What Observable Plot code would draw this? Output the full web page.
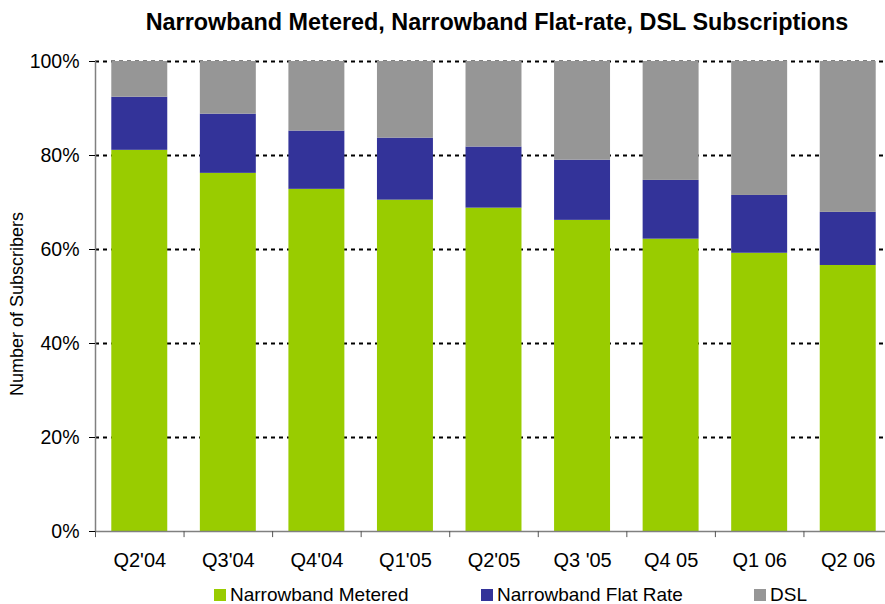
<!DOCTYPE html>
<html>
<head>
<meta charset="utf-8">
<script src="https://cdn.jsdelivr.net/npm/d3@7"></script>
<script src="https://cdn.jsdelivr.net/npm/@observablehq/plot@0.6"></script>
<style>
  html, body { margin: 0; padding: 0; background: #fff; }
  #wrap { position: relative; width: 885px; height: 604px; font-family: "Liberation Sans", Arial, sans-serif; color: #000; overflow: hidden; }
  #title { height: 44px; font-size: 23.4px; font-weight: bold; position: relative; }
  #title span { position: absolute; left: 497px; top: 23px; line-height: 1; transform: translate(-50%, -50%); white-space: nowrap; }
  #ylabel { position: absolute; left: 17px; top: 304px; transform: translate(-50%, -50%) rotate(-90deg); font-size: 18px; white-space: nowrap; }
  #legend { position: relative; height: 30px; font-size: 19px; }
  .item { position: absolute; top: 6px; height: 30px; line-height: 30px; white-space: nowrap; }
  .sw { display: inline-block; width: 12px; height: 12px; margin-right: 4px; vertical-align: 0; }
  svg { display: block; }
</style>
</head>
<body>
<div id="wrap">
  <div id="title"><span>Narrowband Metered, Narrowband Flat-rate, DSL Subscriptions</span></div>
  <div id="chart"></div>
  <div id="legend"></div>
  <div id="ylabel">Number of Subscribers</div>
</div>
<script>
const categories = ["Q2'04", "Q3'04", "Q4'04", "Q1'05", "Q2'05", "Q3 '05", "Q4 05", "Q1 06", "Q2 06"];
const seriesNames = ["Narrowband Metered", "Narrowband Flat Rate", "DSL"];
const seriesColors = ["#99CC00", "#333399", "#969696"];
const metered = [81.1, 76.2, 72.8, 70.5, 68.8, 66.2, 62.2, 59.2, 56.6];
const flatRate = [11.3, 12.6, 12.4, 13.2, 13.0, 12.8, 12.5, 12.3, 11.3];
const dsl = [7.6, 11.2, 14.8, 16.3, 18.2, 21.0, 25.3, 28.5, 32.1];
const yTicks = [0, 20, 40, 60, 80, 100];
const gridTicks = [20, 40, 60, 80, 100];

const valuesBySeries = [metered, flatRate, dsl];
const rows = [];
categories.forEach((c, i) => {
  seriesNames.forEach((s, j) => rows.push({cat: c, series: s, value: valuesBySeries[j][i]}));
});

const x0 = 95, x1 = 892;
const step = (x1 - x0) / categories.length;

const chart = Plot.plot({
  width: 885,
  height: 530,
  marginTop: 17,
  marginBottom: 43,
  marginLeft: 95,
  marginRight: 0,
  style: {fontFamily: "'Liberation Sans', Arial, sans-serif", fontSize: "16px", color: "#000", background: "white", overflow: "hidden"},
  x: {domain: categories, range: [x0, x1], paddingInner: 0.368, paddingOuter: 0.184, round: false},
  y: {domain: [0, 100]},
  color: {domain: seriesNames, range: seriesColors},
  marks: [
    Plot.ruleY(gridTicks, {stroke: "#000", strokeWidth: 2, strokeDasharray: "4,4"}),
    Plot.barY(rows, {x: "cat", y: "value", fill: "series", order: seriesNames}),
    Plot.ruleY([0], {stroke: "#808080", strokeWidth: 1.5}),
    Plot.ruleX([categories[0]], {dx: -step / 2, y1: 0, y2: 100, stroke: "#808080", strokeWidth: 1.5}),
    Plot.ruleX(categories, {dx: -step / 2, y1: 0, y2: -1.3, stroke: "#555", strokeWidth: 1}),
    Plot.axisY({ticks: yTicks, tickFormat: d => d + "%", tickSize: 6, tickPadding: 10, fontSize: 19.5, label: null, stroke: "#000"}),
    Plot.axisX({tickSize: 0, tickPadding: 21, fontSize: 20, label: null})
  ]
});
document.getElementById("chart").appendChild(chart);

const legendPos = [214, 481, 754];
const legend = document.getElementById("legend");
seriesNames.forEach((s, i) => {
  const d = document.createElement("div");
  d.className = "item";
  d.style.left = legendPos[i] + "px";
  d.innerHTML = `<span class="sw" style="background:${seriesColors[i]}"></span>${s}`;
  legend.appendChild(d);
});
</script>
</body>
</html>
